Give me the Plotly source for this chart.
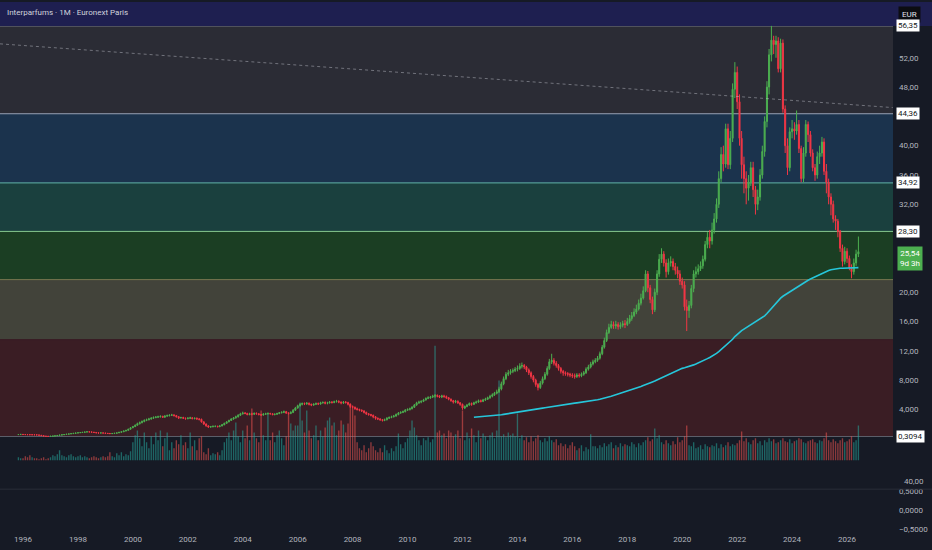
import pandas as pd
import plotly.graph_objects as go

# Interparfums, monthly bars, Euronext Paris (Nov 1995 .. Jun 2026)
start_month = "1995-11-01"
first_open = 0.57

close = [
    0.58, 0.60,  # 1995
    0.58, 0.57, 0.56, 0.55, 0.55, 0.54, 0.52, 0.48, 0.42, 0.36, 0.33, 0.32,  # 1996
    0.34, 0.37, 0.40, 0.45, 0.50, 0.54, 0.58, 0.62, 0.66, 0.70, 0.74, 0.78,  # 1997
    0.82, 0.85, 0.88, 0.92, 0.95, 0.93, 0.90, 0.86, 0.80, 0.78, 0.80, 0.77,  # 1998
    0.74, 0.72, 0.70, 0.72, 0.75, 0.80, 0.88, 0.95, 1.05, 1.15, 1.30, 1.50,  # 1999
    1.65, 1.85, 2.05, 2.20, 2.35, 2.50, 2.60, 2.70, 2.80, 2.90, 2.95, 3.00,  # 2000
    3.05, 2.95, 3.10, 3.15, 3.20, 3.25, 3.15, 3.00, 2.85, 2.90, 2.80, 2.75,  # 2001
    2.80, 2.85, 2.75, 2.80, 2.70, 2.65, 2.30, 2.00, 1.75, 1.60, 1.65, 1.70,  # 2002
    1.70, 1.65, 1.75, 1.90, 2.10, 2.30, 2.50, 2.70, 2.85, 3.00, 3.20, 3.40,  # 2003
    3.50, 3.45, 3.30, 3.40, 3.35, 3.45, 3.40, 3.30, 3.25, 3.35, 3.40, 3.45,  # 2004
    3.40, 3.30, 3.35, 3.45, 3.55, 3.60, 3.70, 3.50, 3.45, 3.60, 3.90, 4.20,  # 2005
    4.50, 4.70, 4.80, 4.75, 4.85, 4.70, 4.60, 4.70, 4.80, 4.75, 4.90, 4.95,  # 2006
    4.85, 4.90, 5.00, 4.95, 5.05, 5.10, 5.00, 4.90, 5.00, 4.95, 4.70, 4.40,  # 2007
    4.30, 4.10, 4.00, 3.90, 3.80, 3.60, 3.40, 3.30, 3.20, 3.00, 2.80, 2.70,  # 2008
    2.60, 2.50, 2.60, 2.80, 2.90, 3.00, 3.10, 3.30, 3.50, 3.60, 3.70, 3.90,  # 2009
    4.00, 4.10, 4.30, 4.60, 4.90, 5.00, 5.10, 5.30, 5.50, 5.60, 5.70, 5.80,  # 2010
    5.90, 5.80, 5.70, 5.85, 5.75, 5.60, 5.40, 5.20, 5.00, 5.10, 4.90, 4.70,  # 2011
    4.20, 4.40, 4.60, 4.80, 4.70, 4.90, 5.00, 5.20, 5.10, 5.30, 5.40, 5.60,  # 2012
    5.80, 6.00, 6.20, 6.40, 6.80, 7.50, 8.20, 8.80, 9.00, 9.20, 9.30, 9.50,  # 2013
    9.60, 9.90, 10.00, 9.80, 9.40, 9.00, 8.50, 8.00, 7.40, 7.00, 7.60, 8.20,  # 2014
    8.80, 9.60, 10.50, 10.70, 10.30, 10.00, 9.60, 9.20, 9.00, 8.90, 8.80, 8.70,  # 2015
    8.60, 8.50, 8.70, 8.60, 8.80, 9.00, 9.50, 9.80, 10.20, 10.50, 10.70, 11.00,  # 2016
    11.60, 12.50, 13.40, 14.50, 15.20, 15.60, 15.40, 15.60, 15.30, 15.50, 15.70, 15.60,  # 2017
    16.00, 16.40, 16.80, 17.30, 17.70, 18.50, 19.20, 20.20, 22.50, 20.60, 19.00, 17.60,  # 2018
    20.00, 22.50, 24.50, 25.20, 24.00, 22.80, 24.00, 24.20, 23.50, 23.00, 22.50, 21.50,  # 2019
    21.00, 18.00, 17.50, 18.20, 20.50, 22.50, 22.80, 23.20, 23.60, 24.50, 26.50, 27.50,  # 2020
    27.00, 28.50, 30.00, 32.00, 35.50, 38.80, 37.50, 42.30, 37.40, 41.00, 47.70, 50.00,  # 2021
    46.00, 41.00, 37.40, 35.50, 34.20, 35.00, 37.00, 34.00, 32.00, 33.00, 36.00, 39.20,  # 2022
    43.30, 48.00, 52.40, 54.40, 53.80, 54.30, 50.50, 54.00, 45.00, 40.00, 37.00, 41.90,  # 2023
    42.30, 42.00, 42.90, 39.60, 35.50, 39.00, 42.90, 41.50, 39.00, 37.00, 36.00, 38.50,  # 2024
    39.00, 40.50, 36.50, 35.00, 33.00, 32.00, 30.00, 29.70, 28.30, 26.00, 24.20, 25.60,  # 2025
    24.60, 23.30, 22.80, 24.00, 25.20, 25.54,  # 2026
]

high = [
    0.62, 0.63,
    0.62, 0.61, 0.59, 0.58, 0.58, 0.57, 0.56, 0.54, 0.50, 0.44, 0.38, 0.35,
    0.36, 0.39, 0.43, 0.48, 0.53, 0.57, 0.61, 0.65, 0.69, 0.73, 0.77, 0.82,
    0.85, 0.88, 0.91, 0.95, 0.99, 0.98, 0.96, 0.92, 0.88, 0.83, 0.83, 0.83,
    0.80, 0.77, 0.75, 0.75, 0.78, 0.83, 0.91, 0.99, 1.10, 1.20, 1.36, 1.58,
    1.75, 1.95, 2.20, 2.35, 2.50, 2.65, 2.75, 2.85, 2.95, 3.05, 3.10, 3.15,
    3.20, 3.15, 3.20, 3.30, 3.35, 3.40, 3.35, 3.25, 3.10, 3.00, 3.00, 2.90,
    2.95, 3.00, 2.95, 2.90, 2.90, 2.80, 2.75, 2.40, 2.10, 1.85, 1.75, 1.80,
    1.80, 1.78, 1.85, 2.00, 2.20, 2.40, 2.60, 2.80, 2.95, 3.15, 3.35, 3.55,
    3.70, 3.65, 3.55, 3.55, 3.55, 3.60, 3.60, 3.50, 3.40, 3.50, 3.55, 3.60,
    3.55, 3.50, 3.45, 3.55, 3.65, 3.75, 3.85, 3.80, 3.60, 3.75, 4.05, 4.35,
    4.65, 4.85, 4.95, 4.95, 5.00, 4.95, 4.80, 4.85, 4.95, 4.95, 5.05, 5.10,
    5.10, 5.05, 5.15, 5.15, 5.20, 5.30, 5.25, 5.10, 5.15, 5.15, 5.05, 4.80,
    4.55, 4.40, 4.25, 4.10, 4.00, 3.90, 3.70, 3.50, 3.40, 3.30, 3.10, 2.90,
    2.80, 2.70, 2.75, 2.95, 3.05, 3.15, 3.25, 3.45, 3.65, 3.75, 3.85, 4.05,
    4.15, 4.25, 4.45, 4.75, 5.05, 5.20, 5.25, 5.45, 5.65, 5.80, 5.85, 6.00,
    6.10, 6.05, 5.95, 6.00, 6.00, 5.90, 5.70, 5.50, 5.30, 5.30, 5.25, 5.00,
    4.80, 4.55, 4.75, 4.95, 4.95, 5.05, 5.20, 5.35, 5.35, 5.45, 5.60, 5.75,
    6.00, 6.20, 6.40, 6.70, 7.10, 7.80, 8.50, 9.10, 9.40, 9.50, 9.60, 9.80,
    10.00, 10.30, 10.40, 10.20, 9.95, 9.60, 9.20, 8.70, 8.20, 7.60, 7.90, 8.50,
    9.10, 9.90, 10.90, 11.60, 11.00, 10.60, 10.20, 9.80, 9.40, 9.20, 9.10, 9.00,
    8.95, 8.90, 8.95, 8.95, 9.05, 9.25, 9.75, 10.10, 10.50, 10.80, 11.00, 11.30,
    11.90, 12.80, 13.80, 14.90, 15.70, 16.10, 16.00, 16.10, 15.90, 15.90, 16.10, 16.20,
    16.50, 16.90, 17.30, 17.80, 18.30, 19.00, 19.80, 20.80, 23.00, 22.90, 21.00, 19.40,
    20.50, 23.00, 25.20, 26.00, 25.60, 24.50, 24.60, 24.90, 24.60, 24.00, 23.50, 23.00,
    22.00, 21.50, 19.00, 18.80, 21.00, 23.00, 23.50, 23.80, 24.20, 25.00, 27.00, 28.20,
    28.50, 29.50, 30.80, 32.80, 36.50, 39.80, 40.00, 43.00, 43.00, 42.00, 48.50, 51.40,
    50.80, 47.00, 42.00, 38.50, 36.50, 36.00, 37.80, 37.80, 34.50, 34.00, 36.80, 40.00,
    44.00, 48.80, 53.20, 56.35, 55.00, 55.00, 54.80, 54.60, 54.50, 45.50, 41.00, 42.50,
    43.50, 43.20, 44.80, 43.50, 40.00, 39.80, 43.50, 43.30, 42.00, 39.50, 37.50, 39.20,
    40.00, 41.20, 41.00, 37.50, 35.50, 33.50, 32.50, 30.50, 30.00, 28.50, 26.50, 26.20,
    26.00, 25.00, 23.80, 24.60, 25.80, 27.60,
]

low = [
    0.55, 0.56,
    0.56, 0.55, 0.54, 0.53, 0.52, 0.52, 0.50, 0.46, 0.40, 0.34, 0.31, 0.3094,
    0.31, 0.33, 0.36, 0.39, 0.44, 0.49, 0.53, 0.57, 0.61, 0.65, 0.69, 0.73,
    0.76, 0.80, 0.83, 0.86, 0.90, 0.91, 0.88, 0.84, 0.78, 0.75, 0.76, 0.75,
    0.72, 0.70, 0.68, 0.68, 0.70, 0.73, 0.78, 0.86, 0.93, 1.02, 1.12, 1.27,
    1.45, 1.60, 1.80, 1.95, 2.10, 2.25, 2.40, 2.50, 2.60, 2.70, 2.80, 2.85,
    2.90, 2.85, 2.85, 3.00, 3.05, 3.10, 3.05, 2.90, 2.70, 2.75, 2.70, 2.60,
    2.65, 2.70, 2.65, 2.65, 2.60, 2.50, 2.20, 1.90, 1.65, 1.50, 1.50, 1.55,
    1.58, 1.55, 1.58, 1.70, 1.85, 2.05, 2.25, 2.45, 2.60, 2.75, 2.90, 3.10,
    3.30, 3.35, 3.20, 3.20, 3.20, 3.25, 3.30, 3.20, 3.10, 3.15, 3.25, 3.30,
    3.30, 3.20, 3.20, 3.25, 3.35, 3.45, 3.50, 3.40, 3.30, 3.35, 3.50, 3.80,
    4.10, 4.40, 4.55, 4.60, 4.65, 4.55, 4.45, 4.50, 4.60, 4.60, 4.65, 4.80,
    4.70, 4.70, 4.80, 4.80, 4.85, 4.95, 4.85, 4.70, 4.75, 4.80, 4.55, 4.20,
    4.10, 3.95, 3.85, 3.75, 3.65, 3.45, 3.25, 3.15, 3.05, 2.80, 2.60, 2.55,
    2.45, 2.35, 2.40, 2.50, 2.70, 2.80, 2.90, 3.00, 3.20, 3.40, 3.50, 3.60,
    3.80, 3.85, 4.00, 4.20, 4.50, 4.75, 4.85, 5.00, 5.20, 5.40, 5.45, 5.55,
    5.60, 5.65, 5.55, 5.55, 5.60, 5.45, 5.25, 5.05, 4.80, 4.85, 4.75, 4.50,
    3.95, 4.05, 4.30, 4.50, 4.50, 4.60, 4.80, 4.90, 4.95, 5.00, 5.15, 5.30,
    5.45, 5.65, 5.85, 6.05, 6.25, 6.60, 7.30, 8.00, 8.55, 8.75, 8.95, 9.10,
    9.20, 9.40, 9.60, 9.50, 9.10, 8.70, 8.20, 7.70, 7.10, 6.60, 6.80, 7.40,
    8.00, 8.60, 9.40, 10.20, 10.00, 9.70, 9.30, 8.90, 8.60, 8.60, 8.50, 8.40,
    8.30, 8.20, 8.30, 8.35, 8.40, 8.60, 8.85, 9.30, 9.60, 10.00, 10.30, 10.50,
    10.80, 11.40, 12.30, 13.20, 14.30, 15.00, 15.00, 15.00, 14.90, 15.00, 15.20, 15.10,
    15.40, 15.70, 16.10, 16.60, 17.00, 17.50, 18.20, 19.00, 20.00, 20.00, 18.50, 17.00,
    17.30, 19.60, 22.10, 24.00, 23.50, 22.00, 22.40, 23.50, 23.00, 22.40, 21.90, 21.00,
    20.50, 17.50, 14.70, 16.50, 17.80, 20.00, 22.00, 22.40, 22.90, 23.20, 24.20, 26.00,
    26.00, 26.50, 28.00, 29.50, 31.50, 35.00, 36.50, 37.00, 36.80, 36.80, 40.50, 46.50,
    45.00, 40.00, 35.50, 33.50, 32.00, 32.50, 34.50, 33.00, 30.60, 31.20, 32.50, 35.50,
    38.50, 42.50, 47.00, 51.50, 52.50, 52.00, 50.00, 50.00, 44.50, 39.00, 36.00, 36.50,
    41.00, 40.80, 41.50, 39.00, 35.00, 35.00, 38.50, 40.50, 38.50, 36.50, 35.20, 35.50,
    37.50, 38.50, 36.00, 33.50, 32.00, 30.50, 29.50, 28.50, 27.50, 25.50, 23.50, 23.80,
    24.00, 23.00, 21.90, 22.40, 23.60, 24.80,
]

volume = [
    3, 2,
    2, 4, 3, 5, 3, 2, 2, 1, 2, 3, 1, 2,
    3, 5, 4, 6, 10, 5, 4, 3, 5, 6, 4, 3,
    4, 5, 3, 4, 3, 2, 3, 4, 3, 2, 3, 4,
    3, 4, 8, 4, 3, 7, 5, 8, 4, 6, 5, 9,
    18, 25, 30, 22, 14, 28, 18, 12, 24, 16, 28, 20,
    30, 14, 22, 28, 10, 18, 12, 20, 16, 25, 15, 18,
    12, 28, 14, 20, 10, 22, 24, 8, 6, 12, 5, 7,
    6, 8, 5, 10, 18, 22, 28, 20, 30, 38, 24, 18,
    30, 22, 35, 20, 52, 28, 22, 18, 50, 25, 20, 47,
    20, 28, 18, 25, 30, 22, 15, 24, 48, 37, 30, 35,
    35, 58, 40, 28, 50, 30, 22, 25, 35, 20, 30, 24,
    33, 40, 43, 35, 38, 25, 30, 40, 36, 28, 37, 57,
    52, 45, 18, 12, 10, 15, 8, 12, 18, 14, 10, 8,
    12, 8, 15, 10, 7, 12, 9, 14, 27, 16, 12, 18,
    22, 30, 40, 33, 25, 20, 15, 22, 20, 23, 18, 21,
    115, 28, 30, 25, 27, 22, 30, 28, 24, 26, 30, 22,
    50, 20, 28, 22, 32, 25, 18, 30, 22, 27, 24, 20,
    25, 28, 22, 30, 80, 24, 26, 23, 28, 25, 27, 24,
    47, 22, 25, 20, 23, 18, 24, 19, 22, 25, 20, 18,
    22, 19, 24, 20, 18, 21, 15, 17, 14, 16, 12, 15,
    18, 14, 10, 12, 15, 9, 13, 11, 26, 14, 14, 12,
    15, 13, 17, 14, 16, 18, 12, 15, 13, 17, 14, 16,
    15, 14, 18, 16, 13, 17, 15, 18, 20, 23, 19, 21,
    32, 22, 25, 18, 16, 20, 17, 15, 19, 16, 23, 18,
    20, 24, 35, 15, 14, 18, 12, 13, 15, 11, 16, 14,
    13, 15, 14, 17, 12, 16, 13, 15, 18, 14, 16, 15,
    17, 20, 29, 19, 22, 18, 16, 20, 22, 17, 19, 15,
    20, 18, 22, 19, 21, 17, 18, 20, 22, 19, 18, 21,
    17, 19, 20, 22, 21, 18, 17, 19, 20, 21, 18, 17,
    20, 19, 22, 28, 20, 18, 21, 19, 17, 20, 22, 18,
    19, 21, 24, 18, 20, 35,
]

# fibonacci levels drawn on the chart (top to bottom)
fib_levels = [56.35, 44.36, 34.92, 28.30, 21.72, 13.53, 0.3094]
labelled_levels = [56.35, 44.36, 34.92, 28.30, 0.3094]
last_price = 25.54
countdown = "9d 3h"

# dotted trend line
trend_dates = ["1995-03-01", "2027-09-01"]
trend_prices = [53.9, 45.2]

price_ticks = [4, 8, 12, 16, 20, 32, 36, 40, 48, 52]
pane_ticks = [-0.5, 0, 0.5]
ema_len = 200

# %% styling
W, H = 932, 550
M_R, M_B = 39, 17
BG = "#161a25"
TXT = "#b2b5be"
UP, DOWN = "#4caf50", "#f23645"
FONT = "Roboto, sans-serif"

band_fills = ["#2b2c35", "#1b334d", "#1a403e", "#1b3e23", "#42433a", "#3a1d24"]
level_colors = ["#8f929c", "#9aa3b5", "#62b3a8", "#86c98f", "#77784f", "#3a1d24", "#5d606b"]


def fmt(v):
    s = f"{v:.4f}" if abs(v) < 1 else (f"{v:.2f}" if abs(v) >= 10 else f"{v:.3f}")
    return s.replace(".", ",").replace("-", "\u2212")


n = len(close)
dates = pd.date_range(start_month, periods=n, freq="MS")
opens = [first_open] + close[:-1]

# EMA 200 (seeded with the simple average of the first bars)
alpha = 2 / (ema_len + 1)
ema = [None] * n
ema[ema_len - 1] = sum(close[:ema_len]) / ema_len
for i in range(ema_len, n):
    ema[i] = alpha * close[i] + (1 - alpha) * ema[i - 1]

vol_colors = [
    "rgba(38,166,154,0.55)" if c >= o else "rgba(239,83,80,0.55)"
    for o, c in zip(opens, close)
]

# pane geometry (pixels)
plot_h = H - M_B
split_px = 489          # separator between price pane and empty pane
vol_base_px = 460       # volume baseline
pane_split = (plot_h - split_px) / plot_h
price_range = [-6.88, 59.61]
vol_range = [-(split_px - vol_base_px), vol_base_px]

fig = go.Figure()

fig.add_trace(go.Bar(
    x=dates, y=volume, marker_color=vol_colors, marker_line_width=0,
    xaxis="x", yaxis="y", hoverinfo="skip",
))

fig.add_trace(go.Scatter(
    x=trend_dates, y=trend_prices, mode="lines", yaxis="y2",
    line=dict(color="rgba(200,202,210,0.45)", width=1, dash="dot"),
    hoverinfo="skip",
))

fig.add_trace(go.Candlestick(
    x=dates, open=opens, high=high, low=low, close=close, yaxis="y2",
    increasing=dict(line=dict(color=UP, width=1), fillcolor=UP),
    decreasing=dict(line=dict(color=DOWN, width=1), fillcolor=DOWN),
    whiskerwidth=0,
))

fig.add_trace(go.Scatter(
    x=dates, y=ema, mode="lines", yaxis="y2",
    line=dict(color="#26c6da", width=1.6), connectgaps=False,
))

# empty lower pane (carries the date axis)
fig.add_trace(go.Scatter(x=[], y=[], yaxis="y3", hoverinfo="skip"))

# fib bands and lines
shapes = []
for i in range(len(fib_levels) - 1):
    shapes.append(dict(
        type="rect", xref="paper", yref="y2", x0=0, x1=1,
        y0=fib_levels[i + 1], y1=fib_levels[i],
        fillcolor=band_fills[i], line_width=0, layer="below",
    ))
for lv, col in zip(fib_levels, level_colors):
    shapes.append(dict(
        type="line", xref="paper", yref="y2", x0=0, x1=1, y0=lv, y1=lv,
        line=dict(color=col, width=1), layer="below",
    ))

# band above the top level runs across the whole width
top_frac = pane_split + (fib_levels[0] - price_range[0]) / (
    price_range[1] - price_range[0]) * (1 - pane_split)
shapes.append(dict(
    type="rect", xref="paper", yref="paper", x0=0, x1=W / (W - M_R),
    y0=top_frac, y1=1.0, fillcolor="#1e1f50", line_width=0, layer="below",
))
# pane separator
shapes.append(dict(
    type="line", xref="paper", yref="paper", x0=0, x1=W / (W - M_R),
    y0=pane_split, y1=pane_split, line=dict(color="#2a2e39", width=1),
))

annotations = [
    dict(text="Interparfums · 1M · Euronext Paris", xref="paper", yref="paper",
         x=0, y=1, xanchor="left", yanchor="middle", xshift=5, yshift=-10,
         showarrow=False, font=dict(color="#d1d4dc", size=8, family=FONT)),
    dict(text="EUR", xref="paper", yref="paper", x=1, y=1, xanchor="left",
         yanchor="top", xshift=5, yshift=-4, showarrow=False,
         bgcolor="#0c0d12", borderpad=3,
         font=dict(color="#e0e3eb", size=8, family=FONT)),
    dict(text=f"{fmt(last_price)}<br>{countdown}", xref="paper",
         yref="y2", x=1, y=last_price, xanchor="left", yanchor="top",
         xshift=4, yshift=6, showarrow=False, bgcolor=UP, borderpad=2,
         align="center", font=dict(color="#ffffff", size=8, family=FONT)),
    dict(text="40,00", xref="paper", yref="paper", x=1, y=pane_split,
         xanchor="left", yanchor="middle", xshift=9, yshift=8,
         showarrow=False, font=dict(color=TXT, size=8, family=FONT)),
]
for lv in labelled_levels:
    annotations.append(dict(
        text=fmt(lv), xref="paper", yref="y2", x=1, y=lv, xanchor="left",
        yanchor="middle", xshift=3, showarrow=False, bgcolor="#ffffff",
        borderpad=1, font=dict(color="#131722", size=8, family=FONT),
    ))

fig.update_layout(
    width=W, height=H,
    margin=dict(l=0, r=M_R, t=0, b=M_B),
    paper_bgcolor=BG, plot_bgcolor=BG,
    showlegend=False, bargap=0.35,
    font=dict(family=FONT, color=TXT, size=8),
    shapes=shapes, annotations=annotations,
    xaxis=dict(
        type="date", range=["1995-03-01", "2027-09-04"], anchor="y3",
        dtick="M24", tick0="1996-01-01", tickformat="%Y",
        showgrid=False, zeroline=False, showline=False,
        rangeslider=dict(visible=False), tickfont=dict(size=8, color=TXT),
    ),
    yaxis=dict(
        domain=[pane_split, 1], range=vol_range, visible=False,
        showgrid=False, zeroline=False,
    ),
    yaxis2=dict(
        domain=[pane_split, 1], range=price_range, overlaying="y",
        side="right", showgrid=False, zeroline=False, showline=False,
        tickvals=price_ticks, ticktext=[fmt(v) for v in price_ticks],
        ticklabelstandoff=5, tickfont=dict(size=8, color=TXT),
    ),
    yaxis3=dict(
        domain=[0, pane_split], range=[-0.605, 0.553], side="right",
        anchor="x", showgrid=False, zeroline=False, showline=False,
        tickvals=pane_ticks,
        ticktext=[fmt(v) if v else "0,0000" for v in pane_ticks],
        ticklabelstandoff=5, tickfont=dict(size=8, color=TXT),
    ),
)

# the page itself should not add a border round the figure
fig.write_html(
    "out.html",
    config={"displayModeBar": False},
    post_script="document.body.style.margin = '0';",
)
